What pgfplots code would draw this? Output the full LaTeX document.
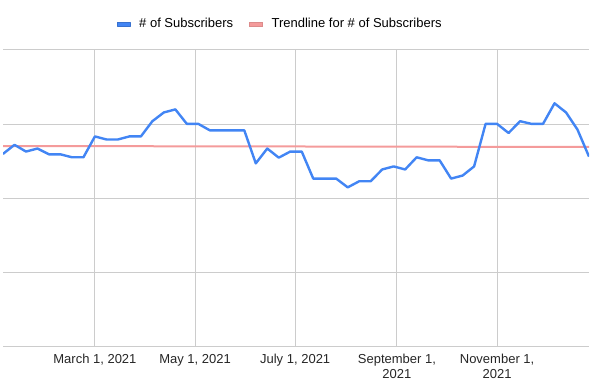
\documentclass[border=0pt]{standalone}
\usepackage{fontspec}
\setmainfont{Liberation Sans}
\usepackage{pgfplots}
\pgfplotsset{compat=1.18}
\definecolor{sub}{HTML}{4285F4}
\definecolor{trend}{HTML}{F49B9B}
\definecolor{gridc}{HTML}{CCCCCC}
\pgfplotstableread{
day val
4 260
11 272.3
18 263.2
25 267.3
32 259.5
39 259.5
46 255.5
53 255.5
60 283.6
67 279.5
74 279.5
81 283.6
88 283.6
95 304.1
102 315.9
109 320
116 300.5
123 300.5
130 291.8
137 291.8
144 291.8
151 291.8
158 247.3
165 267.3
172 255
179 263.2
186 263.2
193 226.8
200 226.8
207 226.8
214 215
221 223.2
228 223.2
235 239.1
242 243.2
249 239.1
256 255.5
263 251.4
270 251.4
277 226.8
284 230.9
291 243.2
298 300.5
305 300.5
312 288.2
319 304.1
326 300.5
333 300.5
340 328.2
347 315.9
354 292.7
361 256.4
}\subs
\begin{document}
\begin{tikzpicture}
\path[use as bounding box] (-3pt,-38pt) rectangle (587pt,347pt);
\begin{axis}[
  at={(0pt,0pt)}, anchor=south west,
  scale only axis, width=586pt, height=297pt,
  xmin=4, xmax=361, ymin=0, ymax=400,
  axis line style={draw=none},
  xtick={60,121,182,244,305},
  xticklabels={{March 1, 2021},{May 1, 2021},{July 1, 2021},{September 1,\\2021},{November 1,\\2021}},
  xticklabel style={align=center, font=\fontsize{13}{14.5}\selectfont, text=black!85, yshift=-4pt},
  ytick={0,100,200,300,400}, yticklabels={},
  major tick length=0pt,
  xmajorgrids, ymajorgrids,
  grid style={draw=gridc, line width=1pt},
  legend columns=2,
  legend style={at={(axis description cs:0.473,1)}, anchor=center, yshift=26pt,
    draw=none, fill=none, font=\fontsize{13}{15}\selectfont,
    /tikz/every odd column/.append style={column sep=7pt},
    /tikz/every even column/.append style={column sep=14pt}},
]
\addplot[trend, line width=2pt, forget plot] coordinates {(4,270.7) (361,269.4)};
\addplot[sub, line width=2.4pt, line join=round,
  legend image code/.code={\draw[fill=sub, draw=sub!85!black, line width=0.5pt] (0pt,-2pt) rectangle (13pt,2pt);}]
  table[x=day, y=val] {\subs};
\addlegendentry{\# of Subscribers}
\addlegendimage{legend image code/.code={\draw[fill=trend, draw=trend!90!black, line width=0.5pt] (0pt,-2pt) rectangle (13pt,2pt);}}
\addlegendentry{Trendline for \# of Subscribers}
\end{axis}
\end{tikzpicture}
\end{document}
